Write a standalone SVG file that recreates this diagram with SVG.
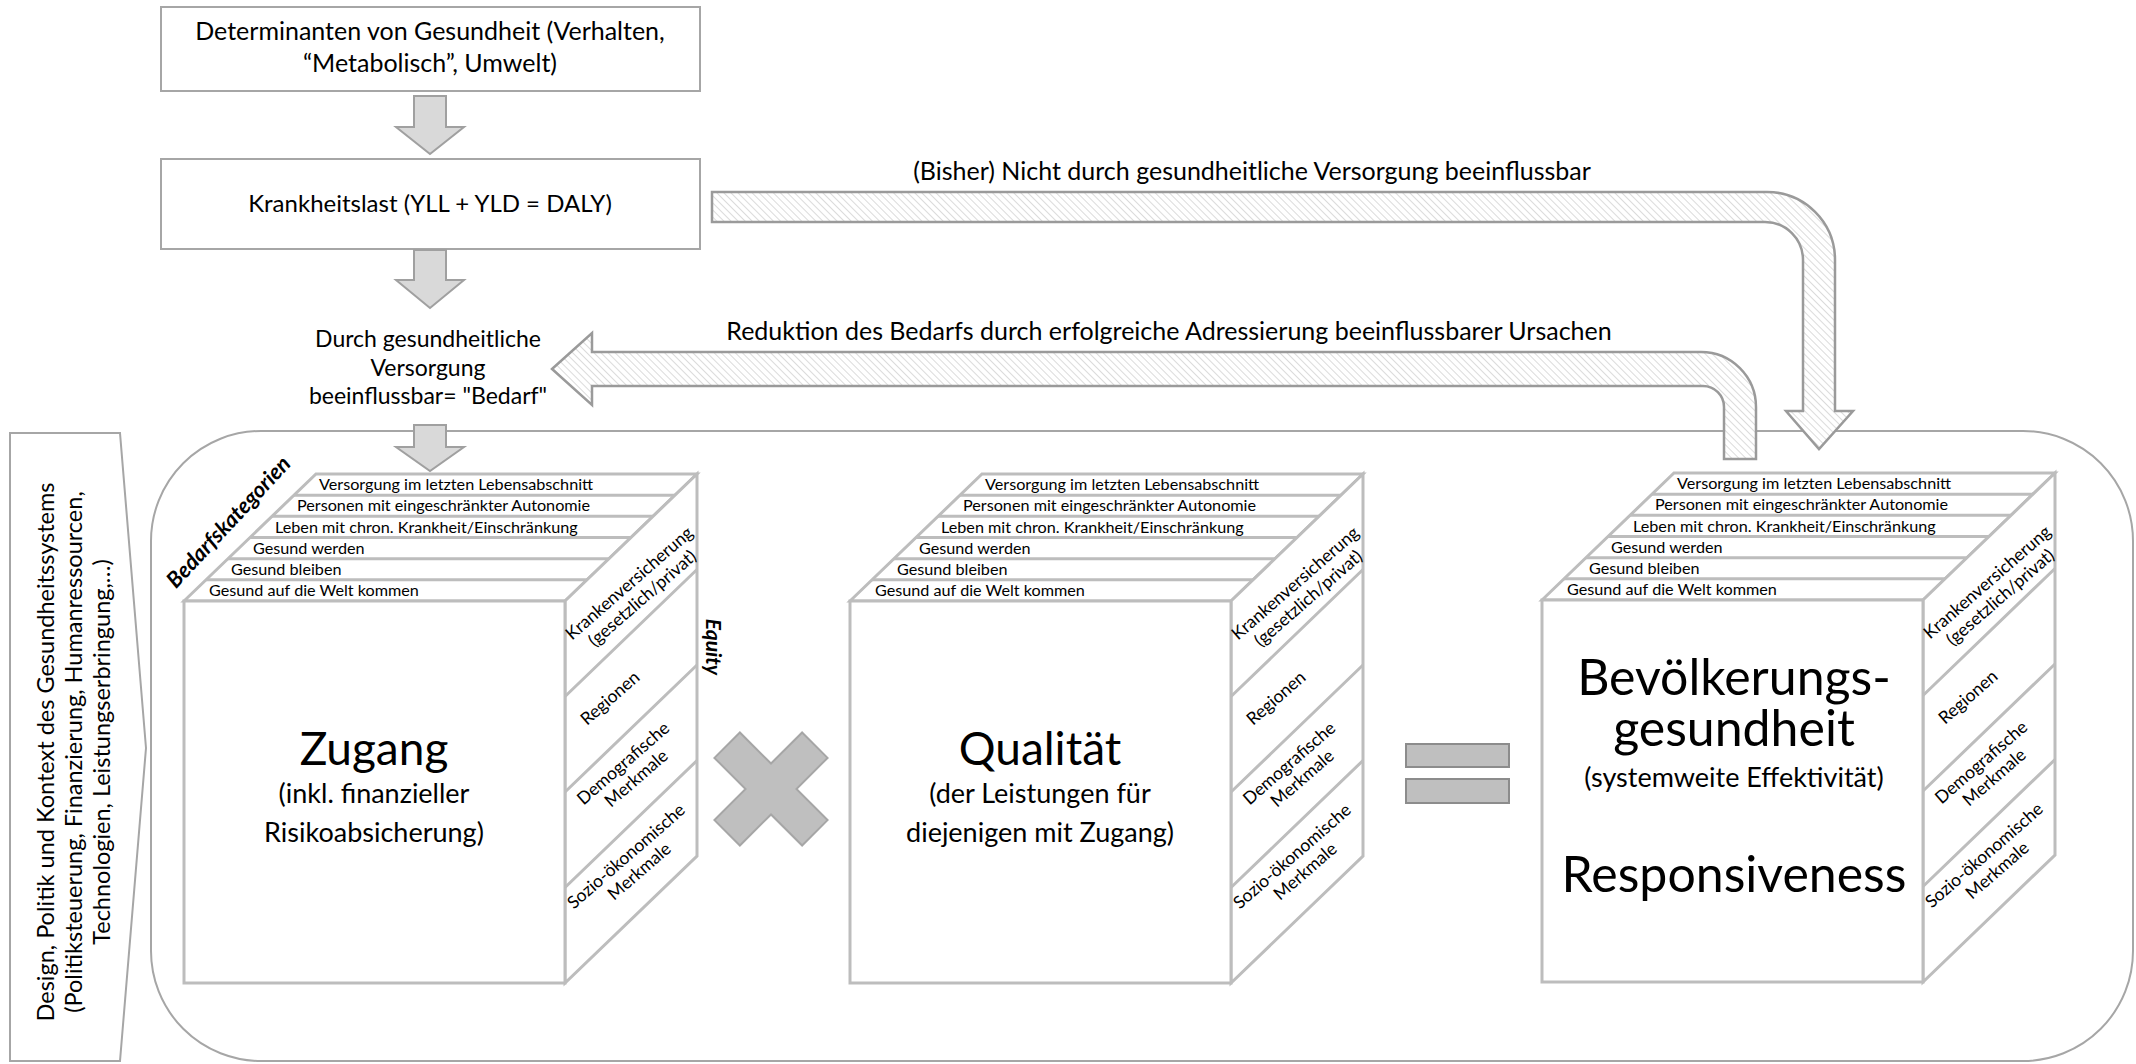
<svg xmlns="http://www.w3.org/2000/svg" width="2136" height="1064" viewBox="0 0 2136 1064">
<style>
.t{font-family:Lato,'Liberation Sans',sans-serif;fill:#000}
.box{fill:#fff;stroke:#a6a6a6;stroke-width:2}
.cube{fill:#fff;stroke:#bdbdbd;stroke-width:3;stroke-linejoin:miter}
.ln{fill:none;stroke:#bdbdbd;stroke-width:3}
.garrow{fill:#d9d9d9;stroke:#a0a0a0;stroke-width:2}
.harrow{fill:url(#hatch);stroke:#9a9a9a;stroke-width:2.5}
.row{font-size:16.2px}
.side{font-size:17.5px}
.big{font-size:46px}
.sub{font-size:27px}
.bi{font-weight:bold;font-style:italic}
</style>
<defs>
<pattern id="hatch" width="5" height="5" patternUnits="userSpaceOnUse" patternTransform="rotate(-45)">
<rect width="5" height="5" fill="#fff"/>
<line x1="0" y1="0" x2="0" y2="5" stroke="#c4c4c4" stroke-width="1.2"/>
</pattern>
</defs>
<rect width="2136" height="1064" fill="#fff"/>

<g id="container">
<rect x="151" y="431" width="1982" height="630" rx="110" ry="110" fill="none" stroke="#a6a6a6" stroke-width="2"/>
</g>

<g id="kontext">
<polygon class="box" points="10,433 120,433 146,748 120,1061 10,1061"/>
<text class="t" font-size="23.5" text-anchor="middle" transform="translate(54,752) rotate(-90)">Design, Politik und Kontext des Gesundheitssystems</text>
<text class="t" font-size="23.5" text-anchor="middle" transform="translate(82,752) rotate(-90)">(Politiksteuerung, Finanzierung, Humanressourcen,</text>
<text class="t" font-size="23.5" text-anchor="middle" transform="translate(110,752) rotate(-90)">Technologien, Leistungserbringung,…)</text>
</g>

<g id="determinanten">
<rect class="box" x="161" y="7" width="539" height="84"/>
<text class="t" font-size="25" text-anchor="middle" x="430" y="40">Determinanten von Gesundheit (Verhalten,</text>
<text class="t" font-size="25" text-anchor="middle" x="430" y="72">“Metabolisch”, Umwelt)</text>
</g>

<g id="krankheitslast">
<rect class="box" x="161" y="159" width="539" height="90"/>
<text class="t" font-size="24" text-anchor="middle" x="430" y="212">Krankheitslast (YLL + YLD = DALY)</text>
</g>

<g id="bedarf">
<text class="t" font-size="23" text-anchor="middle" x="428" y="347">Durch gesundheitliche</text>
<text class="t" font-size="23" text-anchor="middle" x="428" y="376">Versorgung</text>
<text class="t" font-size="23" text-anchor="middle" x="428" y="404">beeinflussbar= "Bedarf"</text>
</g>

<g id="connectors">
<path class="garrow" d="M414,96 L446,96 L446,127 L464,127 L430,154 L396,127 L414,127 Z"/>
<path class="garrow" d="M414,250 L446,250 L446,280 L464,280 L430,308 L396,280 L414,280 Z"/>
<path class="garrow" d="M414,425 L446,425 L446,447 L464,447 L430,471 L396,447 L414,447 Z"/>
<path class="harrow" d="M712,192 L1767,192 A68,68 0 0 1 1835,260 L1835,411 L1853,411 L1819,449 L1786,411 L1803,411 L1803,260 A38,38 0 0 0 1765,222 L712,222 Z"/>
<text class="t" font-size="25" text-anchor="middle" x="1252" y="180">(Bisher) Nicht durch gesundheitliche Versorgung beeinflussbar</text>
<path class="harrow" d="M552,369 L592,333 L592,352 L1701,352 A55,55 0 0 1 1756,407 L1756,459 L1724,459 L1724,407 A21,21 0 0 0 1703,386 L592,386 L592,405 Z"/>
<text class="t" font-size="25" text-anchor="middle" x="1169" y="340">Reduktion des Bedarfs durch erfolgreiche Adressierung beeinflussbarer Ursachen</text>
</g>

<g id="cube-zugang" transform="translate(184,601)">
<polygon class="cube" points="0,0 132,-127 513,-127 381,0"/>
<polygon class="cube" points="381,0 513,-127 513,255 381,382"/>
<rect class="cube" x="0" y="0" width="381" height="382"/>
<path class="ln" d="M22,-21.2 H403 M44,-42.3 H425 M66,-63.5 H447 M88,-84.7 H469 M110,-105.8 H491 M381,95.5 L513,-31.5 M381,191 L513,64 M381,286.5 L513,159.5"/>
<text class="t row" x="25" y="-5">Gesund auf die Welt kommen</text>
<text class="t row" x="47" y="-26">Gesund bleiben</text>
<text class="t row" x="69" y="-47">Gesund werden</text>
<text class="t row" x="91" y="-68">Leben mit chron. Krankheit/Einschränkung</text>
<text class="t row" x="113" y="-90">Personen mit eingeschränkter Autonomie</text>
<text class="t row" x="135" y="-111">Versorgung im letzten Lebensabschnitt</text>
<g transform="translate(451,-11) rotate(-41)"><text class="t side" text-anchor="middle" y="-3">Krankenversicherung</text><text class="t side" text-anchor="middle" y="17">(gesetzlich/privat)</text></g>
<g transform="translate(426,97) rotate(-41)"><text class="t side" text-anchor="middle" y="6">Regionen</text></g>
<g transform="translate(445,169) rotate(-41)"><text class="t side" text-anchor="middle" y="-3">Demografische</text><text class="t side" text-anchor="middle" y="17">Merkmale</text></g>
<g transform="translate(448,262) rotate(-41)"><text class="t side" text-anchor="middle" y="-3">Sozio-ökonomische</text><text class="t side" text-anchor="middle" y="17">Merkmale</text></g>
<text class="t big" text-anchor="middle" x="190" y="164">Zugang</text>
<text class="t sub" text-anchor="middle" x="190" y="202">(inkl. finanzieller</text>
<text class="t sub" text-anchor="middle" x="190" y="241">Risikoabsicherung)</text>
<text class="t bi" font-size="22" text-anchor="middle" transform="translate(50,-74) rotate(-47)">Bedarfskategorien</text>
<text class="t bi" font-size="21" text-anchor="middle" transform="translate(522,46) rotate(90)">Equity</text>
</g>

<g id="mal">
<polygon points="-18,-62 18,-62 18,-18 62,-18 62,18 18,18 18,62 -18,62 -18,18 -62,18 -62,-18 -18,-18" transform="translate(771,789) rotate(45)" fill="#bfbfbf" stroke="#a6a6a6" stroke-width="2"/>
</g>

<g id="cube-qualitaet" transform="translate(850,601)">
<polygon class="cube" points="0,0 132,-127 513,-127 381,0"/>
<polygon class="cube" points="381,0 513,-127 513,255 381,382"/>
<rect class="cube" x="0" y="0" width="381" height="382"/>
<path class="ln" d="M22,-21.2 H403 M44,-42.3 H425 M66,-63.5 H447 M88,-84.7 H469 M110,-105.8 H491 M381,95.5 L513,-31.5 M381,191 L513,64 M381,286.5 L513,159.5"/>
<text class="t row" x="25" y="-5">Gesund auf die Welt kommen</text>
<text class="t row" x="47" y="-26">Gesund bleiben</text>
<text class="t row" x="69" y="-47">Gesund werden</text>
<text class="t row" x="91" y="-68">Leben mit chron. Krankheit/Einschränkung</text>
<text class="t row" x="113" y="-90">Personen mit eingeschränkter Autonomie</text>
<text class="t row" x="135" y="-111">Versorgung im letzten Lebensabschnitt</text>
<g transform="translate(451,-11) rotate(-41)"><text class="t side" text-anchor="middle" y="-3">Krankenversicherung</text><text class="t side" text-anchor="middle" y="17">(gesetzlich/privat)</text></g>
<g transform="translate(426,97) rotate(-41)"><text class="t side" text-anchor="middle" y="6">Regionen</text></g>
<g transform="translate(445,169) rotate(-41)"><text class="t side" text-anchor="middle" y="-3">Demografische</text><text class="t side" text-anchor="middle" y="17">Merkmale</text></g>
<g transform="translate(448,262) rotate(-41)"><text class="t side" text-anchor="middle" y="-3">Sozio-ökonomische</text><text class="t side" text-anchor="middle" y="17">Merkmale</text></g>
<text class="t big" text-anchor="middle" x="190" y="164">Qualität</text>
<text class="t sub" text-anchor="middle" x="190" y="202">(der Leistungen für</text>
<text class="t sub" text-anchor="middle" x="190" y="241">diejenigen mit Zugang)</text>
</g>

<g id="gleich">
<rect x="1406" y="744" width="103" height="23" fill="#bfbfbf" stroke="#8c8c8c" stroke-width="2"/>
<rect x="1406" y="779" width="103" height="24" fill="#bfbfbf" stroke="#8c8c8c" stroke-width="2"/>
</g>

<g id="cube-gesundheit" transform="translate(1542,600)">
<polygon class="cube" points="0,0 132,-127 513,-127 381,0"/>
<polygon class="cube" points="381,0 513,-127 513,255 381,382"/>
<rect class="cube" x="0" y="0" width="381" height="382"/>
<path class="ln" d="M22,-21.2 H403 M44,-42.3 H425 M66,-63.5 H447 M88,-84.7 H469 M110,-105.8 H491 M381,95.5 L513,-31.5 M381,191 L513,64 M381,286.5 L513,159.5"/>
<text class="t row" x="25" y="-5">Gesund auf die Welt kommen</text>
<text class="t row" x="47" y="-26">Gesund bleiben</text>
<text class="t row" x="69" y="-47">Gesund werden</text>
<text class="t row" x="91" y="-68">Leben mit chron. Krankheit/Einschränkung</text>
<text class="t row" x="113" y="-90">Personen mit eingeschränkter Autonomie</text>
<text class="t row" x="135" y="-111">Versorgung im letzten Lebensabschnitt</text>
<g transform="translate(451,-11) rotate(-41)"><text class="t side" text-anchor="middle" y="-3">Krankenversicherung</text><text class="t side" text-anchor="middle" y="17">(gesetzlich/privat)</text></g>
<g transform="translate(426,97) rotate(-41)"><text class="t side" text-anchor="middle" y="6">Regionen</text></g>
<g transform="translate(445,169) rotate(-41)"><text class="t side" text-anchor="middle" y="-3">Demografische</text><text class="t side" text-anchor="middle" y="17">Merkmale</text></g>
<g transform="translate(448,262) rotate(-41)"><text class="t side" text-anchor="middle" y="-3">Sozio-ökonomische</text><text class="t side" text-anchor="middle" y="17">Merkmale</text></g>
<text class="t" font-size="50" text-anchor="middle" x="192" y="95">Bevölkerungs-</text>
<text class="t" font-size="50" text-anchor="middle" x="192" y="146">gesundheit</text>
<text class="t" font-size="27" text-anchor="middle" x="192" y="187">(systemweite Effektivität)</text>
<text class="t" font-size="50" text-anchor="middle" x="192" y="292">Responsiveness</text>
</g>
</svg>
